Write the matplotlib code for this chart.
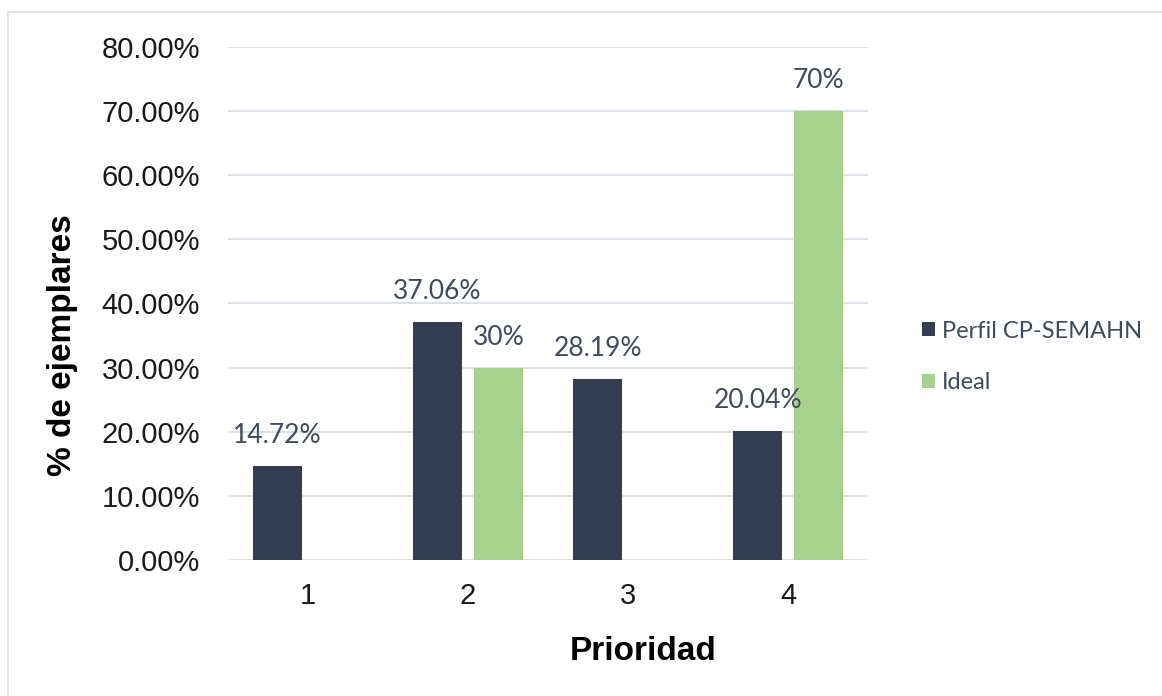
import matplotlib

matplotlib.use("Agg")
import matplotlib.pyplot as plt
import numpy as np
from matplotlib.patches import Rectangle

# Datos por prioridad
prioridades = ["1", "2", "3", "4"]
perfil = [14.72, 37.06, 28.19, 20.04]
ideal = [0.0, 30.0, 0.0, 70.0]
ideal_labels = ["", "30%", "", "70%"]
y_ticks = [0, 10, 20, 30, 40, 50, 60, 70, 80]

COLOR_PERFIL = "#333f50"
COLOR_IDEAL = "#a9d18e"
GRID_COLOR = "#dde2ea"
LABEL_COLOR = "#404a5a"


def main() -> None:
    fig = plt.figure(figsize=(11.62, 6.96), dpi=100)
    fig.patches.append(
        Rectangle((8 / 1162, -0.1), 1.2, 1 - 12 / 696 + 0.1, transform=fig.transFigure,
                  fill=False, edgecolor="#dfe3e8", linewidth=1.5)
    )
    ax = fig.add_axes([0.1962, 0.1954, 0.5508, 0.7371])

    x = np.arange(1, len(prioridades) + 1)
    offset = 0.19
    width = 0.306
    bars_p = ax.bar(x - offset, perfil, width, color=COLOR_PERFIL, label="Perfil CP-SEMAHN", zorder=3)
    bars_i = ax.bar(x + offset, ideal, width, color=COLOR_IDEAL, label="Ideal", zorder=3)

    for bar, val in zip(bars_p, perfil):
        ax.annotate(f"{val:.2f}%", (bar.get_x() + bar.get_width() / 2, val), xytext=(0, 22),
                    textcoords="offset points", ha="center", va="center",
                    fontsize=19, family="Lato", color=LABEL_COLOR)
    for bar, val, lab in zip(bars_i, ideal, ideal_labels):
        if lab:
            ax.annotate(lab, (bar.get_x() + bar.get_width() / 2, val), xytext=(0, 22),
                        textcoords="offset points", ha="center", va="center",
                        fontsize=19, family="Lato", color=LABEL_COLOR)

    ax.set_xlim(0.5, 4.5)
    ax.set_ylim(0, 80)
    ax.set_yticks(y_ticks)
    ax.set_yticklabels([f"{v:.2f}%" for v in y_ticks], family="Liberation Sans", fontsize=21, color="#1a1a1a")
    ax.set_xticks(x)
    ax.set_xticklabels(prioridades, family="Liberation Sans", fontsize=21, color="#1a1a1a")
    ax.tick_params(axis="y", length=0, pad=20)
    ax.tick_params(axis="x", length=0, pad=16)
    ax.grid(axis="y", color=GRID_COLOR, linewidth=1.5, zorder=0)
    for spine in ax.spines.values():
        spine.set_visible(False)

    ax.set_xlabel("Prioridad", family="Liberation Sans", fontsize=24, fontweight="bold")
    ax.set_ylabel("% de ejemplares", family="Liberation Sans", fontsize=24, fontweight="bold")
    ax.xaxis.set_label_coords(0.648, -0.179)
    ax.yaxis.set_label_coords(-0.259, 0.419)
    ax.xaxis.label.set_va("center")
    ax.yaxis.label.set_va("center")

    fig.legend(handles=[bars_p, bars_i], loc="center left", bbox_to_anchor=(0.775, 0.487),
               frameon=False, prop={"family": "Lato", "size": 17}, labelcolor=LABEL_COLOR,
               handlelength=0.55, handleheight=0.55, handletextpad=0.3, labelspacing=1.3)

    fig.savefig("out.png", dpi=100)
    plt.close(fig)


if __name__ == "__main__":
    main()
